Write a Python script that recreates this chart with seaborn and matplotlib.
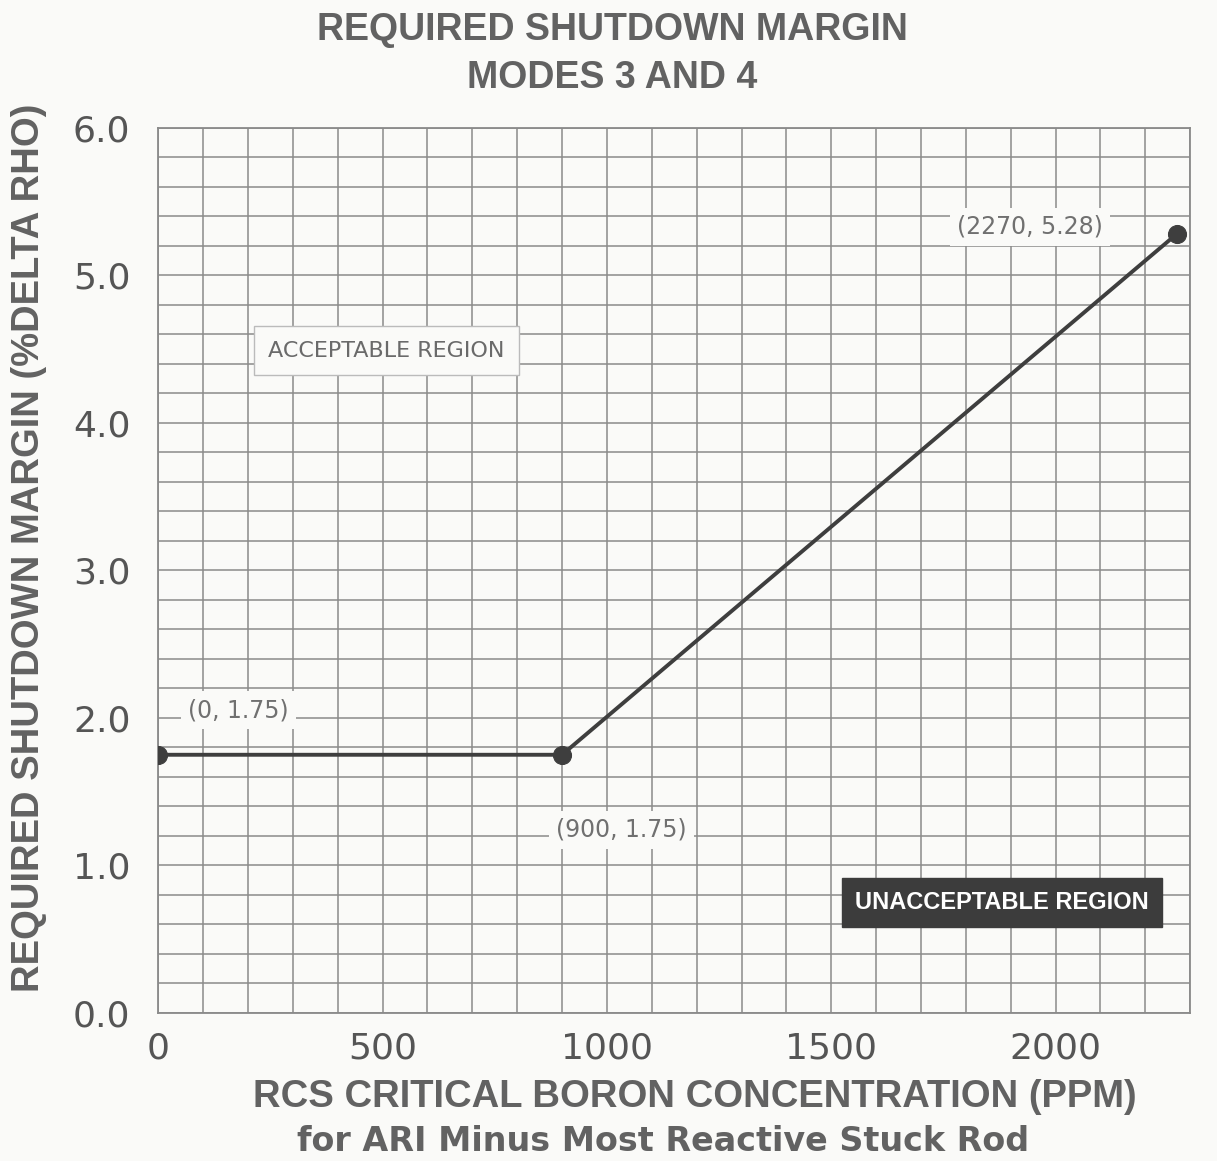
import numpy as np
import pandas as pd
import matplotlib.pyplot as plt
import seaborn as sns

# Curve break points
boron_ppm = [0, 900, 2270]
shutdown_margin = [1.75, 1.75, 5.28]
point_labels = ["(0, 1.75)", "(900, 1.75)", "(2270, 5.28)"]

x_ticks = [0, 500, 1000, 1500, 2000]
y_ticks = [0.0, 1.0, 2.0, 3.0, 4.0, 5.0, 6.0]

df = pd.DataFrame({"ppm": boron_ppm, "sdm": shutdown_margin})

sns.set_theme(style="white")
plt.rcParams["font.family"] = ["DejaVu Sans"]

ink = "#555555"
soft = "#626262"
paper = "#fafaf8"
fig = plt.figure(figsize=(12.17, 11.61), dpi=100, facecolor=paper)
ax = fig.add_axes([0.130, 0.1275, 0.848, 0.7625])
ax.set_facecolor(paper)

# graph paper grid
ax.set_xticks(np.arange(0, 2301, 100), minor=True)
ax.set_yticks(np.arange(0, 6.01, 0.2), minor=True)
ax.grid(which="both", color="#8a8a8a", linewidth=1.1)

sns.lineplot(data=df, x="ppm", y="sdm", ax=ax, color="#3e3e3e", linewidth=2.8,
             marker="o", markersize=13, markeredgecolor="#3e3e3e", zorder=5)

ax.set_xlim(0, 2300)
ax.set_ylim(0, 6.0)
ax.set_xticks(x_ticks)
ax.set_xticklabels([str(v) for v in x_ticks])
ax.set_yticks(y_ticks)
ax.set_yticklabels([f"{v:.1f}" for v in y_ticks])
ax.tick_params(axis="both", which="both", length=0, labelsize=26, labelcolor=ink)
ax.tick_params(axis="y", pad=20)
ax.tick_params(axis="x", pad=13)
ax.set_xlabel("")
ax.set_ylabel("")

for s in ax.spines.values():
    s.set_color("#8a8a8a")
    s.set_linewidth(1.3)

# point labels
offsets = [(58, 32), (43, -54), (-106, 5)]
for x, y, lab, (dx, dy) in zip(boron_ppm, shutdown_margin, point_labels, offsets):
    ax.annotate(lab, (x, y), xytext=(dx, dy), textcoords="offset points",
                ha="center", va="center", fontsize=17, color="#707070",
                bbox=dict(boxstyle="square,pad=0.3", fc=paper, ec="none"))

ax.text(508, 4.49, "ACCEPTABLE REGION", fontsize=16, color="#6a6a6a", ha="center", va="center",
        bbox=dict(boxstyle="square,pad=0.65", fc=paper, ec="#bbbbbb", lw=1))
ax.text(1881, 0.75, "UNACCEPTABLE REGION", fontsize=17, color="white", fontweight="bold",
        family="Liberation Sans", ha="center", va="center",
        bbox=dict(boxstyle="square,pad=0.55", fc="#3c3c3c", ec="#3c3c3c"))

fig.text(0.503, 0.974, "REQUIRED SHUTDOWN MARGIN", ha="center", va="center",
         fontsize=27, color=soft, fontweight="bold", family="Liberation Sans")
fig.text(0.503, 0.933, "MODES 3 AND 4", ha="center", va="center",
         fontsize=27, color=soft, fontweight="bold", family="Liberation Sans")
fig.text(0.571, 0.055, "RCS CRITICAL BORON CONCENTRATION (PPM)", ha="center", va="center",
         fontsize=27.5, color=soft, fontweight="bold", family="Liberation Sans")
fig.text(0.545, 0.017, "for ARI Minus Most Reactive Stuck Rod", ha="center", va="center",
         fontsize=24, color=soft, fontweight="bold")
fig.text(0.024, 0.528, "REQUIRED SHUTDOWN MARGIN (%DELTA RHO)", ha="center", va="center",
         rotation=90, fontsize=27.5, color=soft, fontweight="bold", family="Liberation Sans")

fig.savefig("out.png", dpi=100, facecolor=fig.get_facecolor())
